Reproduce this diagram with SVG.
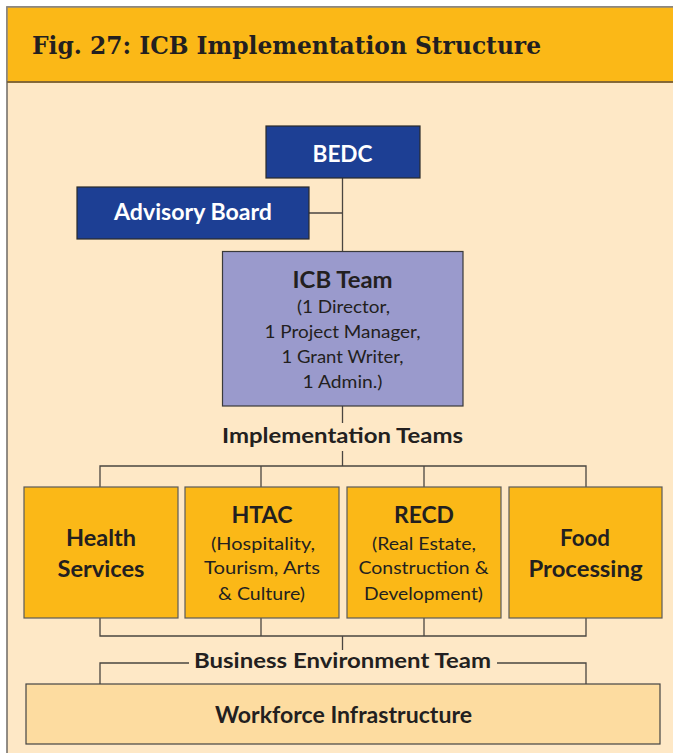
<svg xmlns="http://www.w3.org/2000/svg" width="673" height="753" viewBox="0 0 673 753">
<style>
.t{font-family:Lato,"Open Sans","Liberation Sans",sans-serif;fill:#231f20;text-anchor:middle}
.b{font-weight:bold}
.w{fill:#ffffff}
.ln{stroke:#4a4540;stroke-width:1.3;fill:none}
.blue{fill:#1d3f94;stroke:#2a2a2a;stroke-width:1.2}
.org{fill:#fbb817;stroke:#5a5a5a;stroke-width:1.2}
</style>
<rect x="0" y="0" width="673" height="753" fill="#ffffff"/>
<g id="frame">
<rect x="7" y="7" width="680" height="760" fill="#fee8c6" stroke="#6e6a66" stroke-width="1.5"/>
<rect x="7" y="7" width="680" height="75" fill="#fbb817" stroke="#8a8580" stroke-width="1.5"/>
<line x1="7" y1="82" x2="673" y2="82" stroke="#7a5a20" stroke-width="1.5"/>
<text x="32" y="53.5" font-family="'DejaVu Serif','Liberation Serif',serif" font-weight="bold" font-size="24.5" fill="#231f20" textLength="509" lengthAdjust="spacingAndGlyphs">Fig. 27: ICB Implementation Structure</text>
</g>
<g id="connectors">
<line class="ln" x1="342.5" y1="178" x2="342.5" y2="252"/>
<line class="ln" x1="309" y1="213" x2="342.5" y2="213"/>
<line class="ln" x1="342.5" y1="406" x2="342.5" y2="423"/>
<line class="ln" x1="342.5" y1="451" x2="342.5" y2="466"/>
<polyline class="ln" points="100,487 100,466 586,466 586,487"/>
<line class="ln" x1="261" y1="466" x2="261" y2="487"/>
<line class="ln" x1="424" y1="466" x2="424" y2="487"/>
<polyline class="ln" points="100,618 100,636 586,636 586,618"/>
<line class="ln" x1="261" y1="618" x2="261" y2="636"/>
<line class="ln" x1="424" y1="618" x2="424" y2="636"/>
<line class="ln" x1="342.5" y1="636" x2="342.5" y2="650"/>
<polyline class="ln" points="100,684 100,663 189,663"/>
<polyline class="ln" points="497,663 586,663 586,684"/>
<text class="t b" x="342.5" y="443" font-size="21" textLength="241" lengthAdjust="spacingAndGlyphs">Implementation Teams</text>
<text class="t b" x="342.5" y="668" font-size="21" textLength="297" lengthAdjust="spacingAndGlyphs">Business Environment Team</text>
</g>
<g id="bedc">
<rect class="blue" x="266" y="126" width="154" height="52"/>
<text class="t b w" x="342.5" y="162" font-size="22" textLength="60" lengthAdjust="spacingAndGlyphs">BEDC</text>
</g>
<g id="advisory">
<rect class="blue" x="77" y="187" width="232" height="52"/>
<text class="t b w" x="193" y="220" font-size="22" textLength="158" lengthAdjust="spacingAndGlyphs">Advisory Board</text>
</g>
<g id="icb">
<rect x="222.5" y="251.5" width="240.5" height="154.5" fill="#9a9acc" stroke="#3a3a3a" stroke-width="1.2"/>
<text class="t b" x="342.5" y="288" font-size="22" textLength="100" lengthAdjust="spacingAndGlyphs">ICB Team</text>
<text class="t" x="343.5" y="313" font-size="18" textLength="93" lengthAdjust="spacingAndGlyphs">(1 Director,</text>
<text class="t" x="342.5" y="337.5" font-size="18" textLength="156" lengthAdjust="spacingAndGlyphs">1 Project Manager,</text>
<text class="t" x="342.5" y="363" font-size="18" textLength="122" lengthAdjust="spacingAndGlyphs">1 Grant Writer,</text>
<text class="t" x="342.5" y="388" font-size="18" textLength="80" lengthAdjust="spacingAndGlyphs">1 Admin.)</text>
</g>
<g id="health">
<rect class="org" x="24" y="487" width="154" height="131"/>
<text class="t b" x="101" y="546" font-size="23" textLength="70" lengthAdjust="spacingAndGlyphs">Health</text>
<text class="t b" x="101" y="577" font-size="23" textLength="87" lengthAdjust="spacingAndGlyphs">Services</text>
</g>
<g id="htac">
<rect class="org" x="185" y="487" width="154" height="131"/>
<text class="t b" x="262" y="523" font-size="23" textLength="61" lengthAdjust="spacingAndGlyphs">HTAC</text>
<text class="t" x="263" y="550" font-size="18" textLength="104" lengthAdjust="spacingAndGlyphs">(Hospitality,</text>
<text class="t" x="262" y="574" font-size="18" textLength="116" lengthAdjust="spacingAndGlyphs">Tourism, Arts</text>
<text class="t" x="261.5" y="600" font-size="18" textLength="87" lengthAdjust="spacingAndGlyphs">&amp; Culture)</text>
</g>
<g id="recd">
<rect class="org" x="347" y="487" width="154" height="131"/>
<text class="t b" x="424" y="523" font-size="23" textLength="60" lengthAdjust="spacingAndGlyphs">RECD</text>
<text class="t" x="424" y="550" font-size="18" textLength="104" lengthAdjust="spacingAndGlyphs">(Real Estate,</text>
<text class="t" x="423.5" y="574" font-size="18" textLength="130" lengthAdjust="spacingAndGlyphs">Construction &amp;</text>
<text class="t" x="423.5" y="600" font-size="18" textLength="119" lengthAdjust="spacingAndGlyphs">Development)</text>
</g>
<g id="food">
<rect class="org" x="509" y="487" width="153" height="131"/>
<text class="t b" x="585" y="546" font-size="23" textLength="50" lengthAdjust="spacingAndGlyphs">Food</text>
<text class="t b" x="585.5" y="577" font-size="23" textLength="114" lengthAdjust="spacingAndGlyphs">Processing</text>
</g>
<g id="workforce">
<rect x="26" y="684" width="634" height="60" fill="#fddca0" stroke="#444444" stroke-width="1.2"/>
<text class="t b" x="343.5" y="723" font-size="22" textLength="257" lengthAdjust="spacingAndGlyphs">Workforce Infrastructure</text>
</g>
</svg>
